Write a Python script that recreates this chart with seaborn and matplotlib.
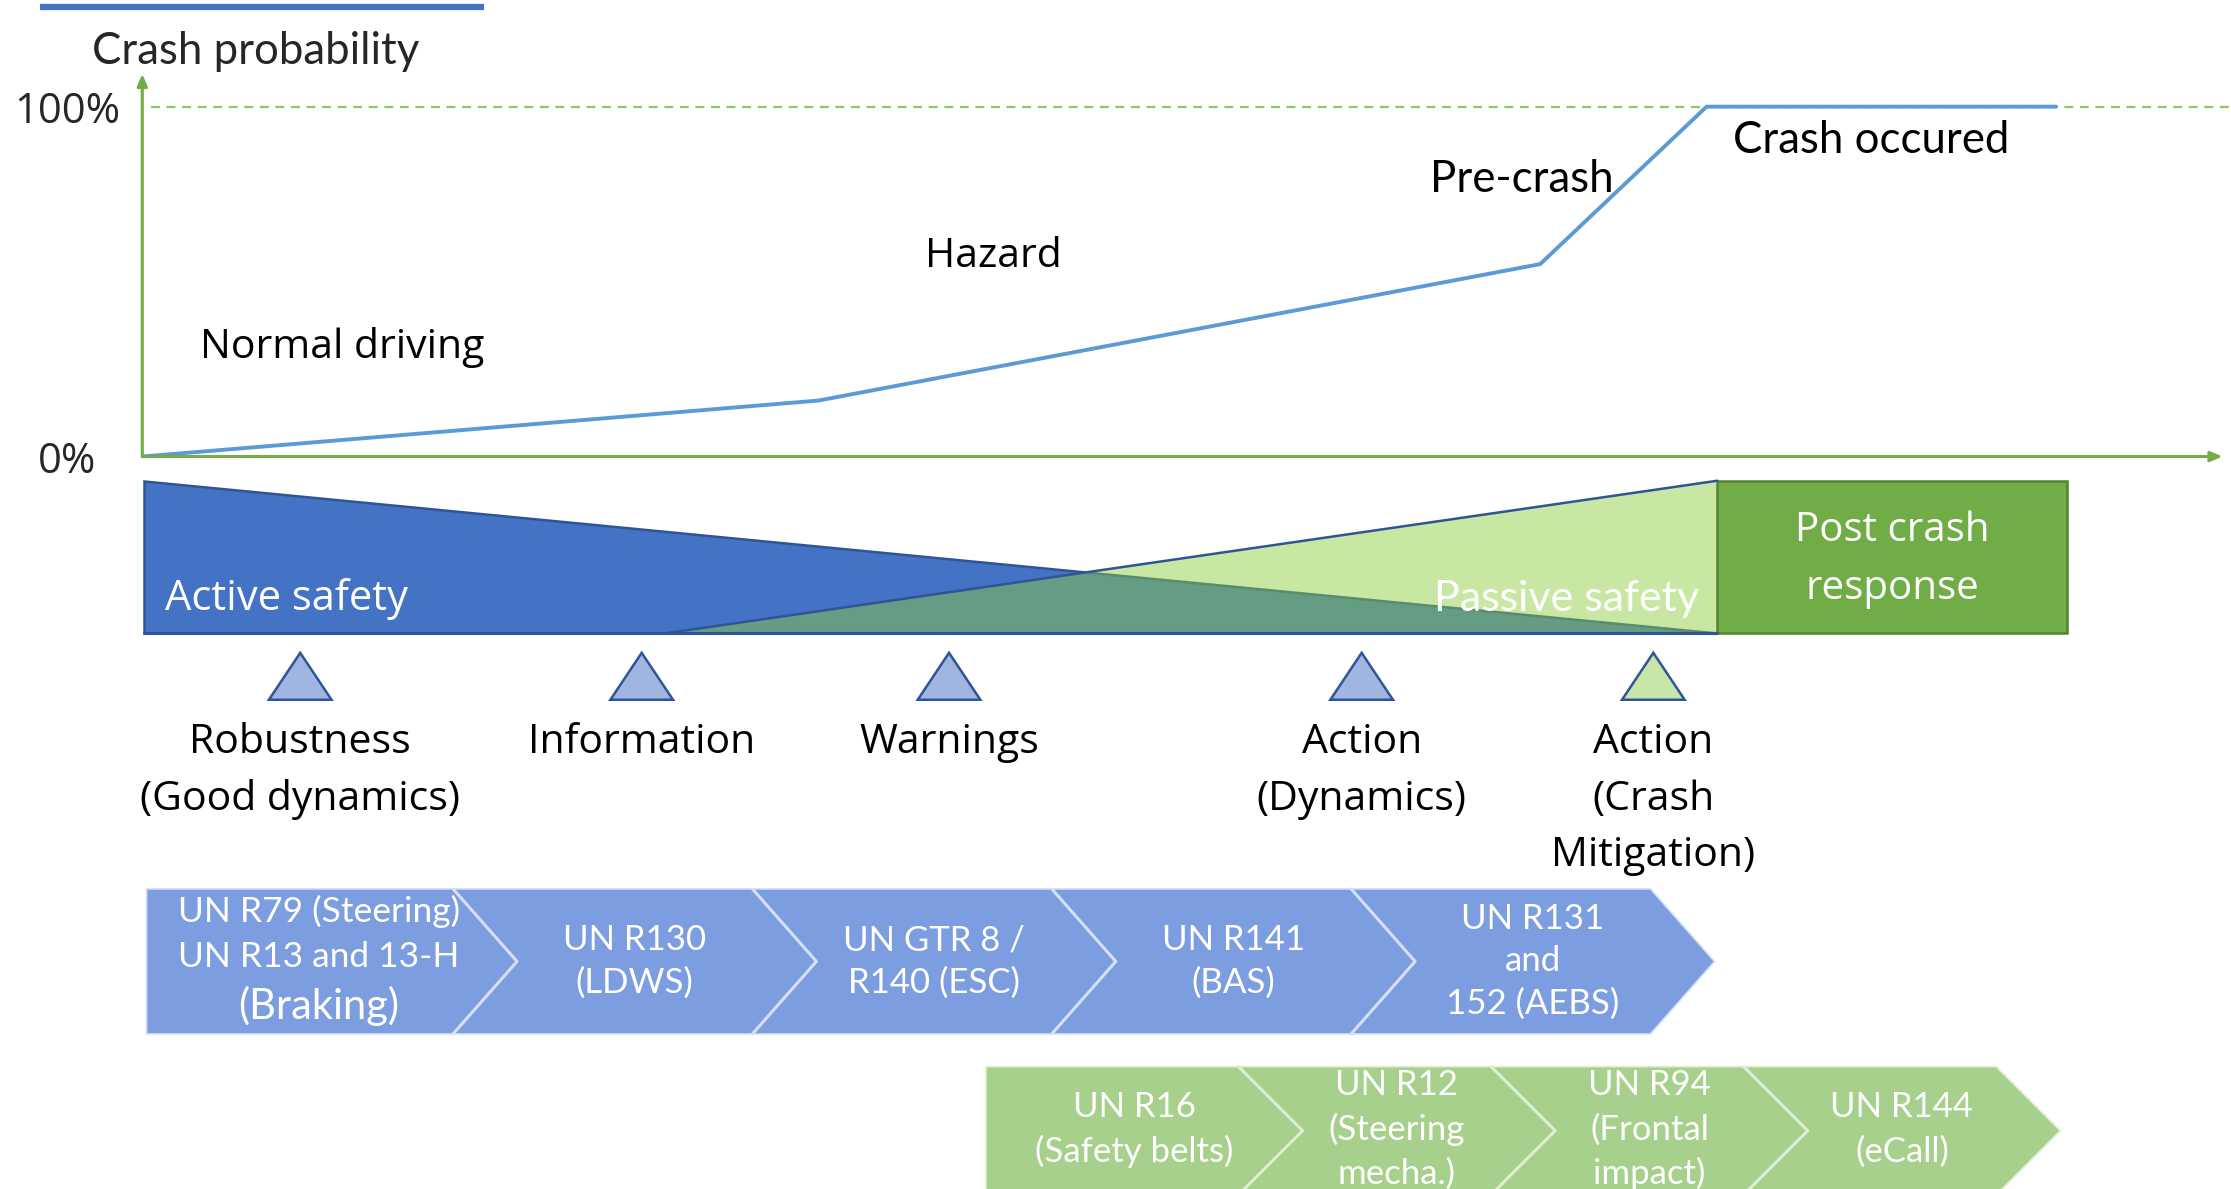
import matplotlib
matplotlib.use("Agg")
import matplotlib.pyplot as plt
import seaborn as sns
import pandas as pd
from matplotlib.patches import Polygon, Rectangle

# ---------------- data ----------------
time_pct = [0, 32.5, 67.2, 75.2, 92.0]
crash_prob = [0, 16, 55, 100, 100]

phase_labels = ["Normal driving", "Hazard", "Pre-crash", "Crash occured"]
phase_time = [9.6, 40.9, 66.3, 83.1]
phase_prob = [31.3, 57.0, 79.3, 90.3]
phase_font = ["seg", "seg", "cal", "cal"]

ytick_vals = [0, 100]
ytick_labels = ["0%", "100%"]

stage_labels = [["Robustness", "(Good dynamics)"], ["Information"], ["Warnings"],
                ["Action", "(Dynamics)"], ["Action", "(Crash", "Mitigation)"]]
stage_x = [211, 451, 667, 957, 1162]
stage_kind = ["active", "active", "active", "active", "passive"]

active_regs = [["UN R79 (Steering)", "UN R13 and 13-H", "(Braking)"],
               ["UN R130", "(LDWS)"], ["UN GTR 8 /", "R140 (ESC)"],
               ["UN R141", "(BAS)"], ["UN R131", "and", "152 (AEBS)"]]
passive_regs = [["UN R16", "(Safety belts)"], ["UN R12", "(Steering", "mecha.)"],
                ["UN R94", "(Frontal", "impact)"], ["UN R144", "(eCall)"]]

# ---------------- style ----------------
sns.set_style("white")
plt.rcParams["font.family"] = ["Open Sans", "DejaVu Sans"]
SEG = ["Open Sans", "DejaVu Sans"]
CAL = ["Lato", "DejaVu Sans"]

GREEN = "#70AD47"
BLUE = "#4472C4"
DBLUE = "#2F5597"
CURVE = "#5B9BD5"

W, H = 1568, 836
fig = plt.figure(figsize=(22.31, 11.89), dpi=100)

# background axes in layout units
bg = fig.add_axes([0, 0, 1, 1])
bg.set_xlim(0, W)
bg.set_ylim(H, 0)
bg.axis("off")

# ---------------- top chart ----------------
ax_l, ax_r, ax_b, ax_t = 100, 1562, 321, 52
ax = fig.add_axes([ax_l / W, 1 - ax_b / H, (ax_r - ax_l) / W, (ax_b - ax_t) / H])
ax.patch.set_alpha(0)
ax.set_xlim(0, 100)
ax.set_ylim(0, 100 * (ax_b - ax_t) / (ax_b - 75))
for s in ax.spines.values():
    s.set_visible(False)
ax.set_xticks([])
ax.set_yticks(ytick_vals)
ax.set_yticklabels(ytick_labels, fontsize=30, family=SEG)
ax.tick_params(axis="y", length=0, pad=54)
for lbl in ax.get_yticklabels():
    lbl.set_ha("center")

# axes arrows
ax.annotate("", xy=(1.0, 0), xytext=(0, 0), xycoords="axes fraction",
            arrowprops=dict(arrowstyle="-|>,head_length=0.7,head_width=0.3", color=GREEN, lw=2.2,
                            shrinkA=0, shrinkB=0))
ax.annotate("", xy=(0, 1.0), xytext=(0, 0), xycoords="axes fraction",
            arrowprops=dict(arrowstyle="-|>,head_length=0.7,head_width=0.3", color=GREEN, lw=2.2,
                            shrinkA=0, shrinkB=0))
ax.plot([0.4, 100.4], [100, 100], color="#8CC866", lw=1.6, ls=(0, (4, 3)), clip_on=False)

df = pd.DataFrame({"time": time_pct, "prob": crash_prob})
sns.lineplot(data=df, x="time", y="prob", ax=ax, color=CURVE, lw=2.8)
ax.set_xlabel("")
ax.set_ylabel("")

for lab, t, p, f in zip(phase_labels, phase_time, phase_prob, phase_font):
    ax.text(t, p, lab, ha="center", va="center", fontsize=29.5 if f == "seg" else 31.5,
            family=SEG if f == "seg" else CAL, color="black")

# title bar & label
bg.plot([28, 340], [5, 5], color=BLUE, lw=4.5, solid_capstyle="butt")
bg.text(180, 36, "Crash probability", ha="center", va="center", fontsize=31.5, family=CAL)

# ---------------- safety triangles ----------------
tri_top, tri_bot, tri_l, tri_r, pas_l = 338, 445, 101, 1207, 470
bg.add_patch(Polygon([(tri_l, tri_top), (tri_l, tri_bot), (tri_r, tri_bot)], closed=True,
                     fc=BLUE, ec=DBLUE, lw=1.8, zorder=2))
bg.add_patch(Polygon([(pas_l, tri_bot), (tri_r, tri_top), (tri_r, tri_bot)], closed=True,
                     fc=(0.55, 0.80, 0.24, 0.47), ec="none", lw=0, zorder=3))
bg.plot([pas_l, tri_r], [tri_bot, tri_top], color=DBLUE, lw=1.8, zorder=4)
bg.plot([tri_l, tri_r], [tri_bot, tri_bot], color=DBLUE, lw=2.2, zorder=4)
bg.text(116, 421, "Active safety", color="white", fontsize=30, family=SEG,
        ha="left", va="center", zorder=5)
bg.text(1194, 421, "Passive safety", color="white", fontsize=31, family=CAL,
        ha="right", va="center", zorder=5)

bg.add_patch(Rectangle((tri_r, tri_top), 1453 - tri_r, tri_bot - tri_top, fc=GREEN,
                       ec="#548235", lw=1.8, zorder=3))
bg.text(1330, 373, "Post crash", color="white", fontsize=29, family=SEG, ha="center", va="center", zorder=5)
bg.text(1330, 414, "response", color="white", fontsize=29, family=SEG, ha="center", va="center", zorder=5)

# ---------------- stage markers ----------------
m_top, m_bot, m_hw = 459, 492, 22
for x, lines, kind in zip(stage_x, stage_labels, stage_kind):
    fc = "#A0B6E0" if kind == "active" else "#C8E6A8"
    bg.add_patch(Polygon([(x - m_hw, m_bot), (x, m_top), (x + m_hw, m_bot)], closed=True,
                         fc=fc, ec=DBLUE, lw=1.8, zorder=3))
    for i, line in enumerate(lines):
        bg.text(x, 522 + 40 * i, line, ha="center", va="center", fontsize=29.5, family=SEG,
                color="black")


# ---------------- chevrons ----------------
def chevron(x0, w, d, top, bot, first, fc, hl):
    mid = (top + bot) / 2
    left_pt = (x0, mid) if first else (x0 + d, mid)
    verts = [(x0, top), (x0 + w, top), (x0 + w + d, mid), (x0 + w, bot), (x0, bot), left_pt]
    bg.add_patch(Polygon(verts, closed=True, fc=fc, ec=hl, lw=1.2, zorder=2))
    if not first:
        bg.plot([x0, x0 + d, x0], [top, mid, bot], color=hl, lw=2.2, zorder=3)


# blue row
b_top, b_bot, b_d = 625, 727, 45
b_first, b_start, b_w = 103, 318.4, 210.4
for k, lines in enumerate(active_regs):
    if k == 0:
        x0, w = b_first, b_start - b_first
        cx = (x0 + x0 + w + b_d / 2) / 2 + 2
    else:
        x0, w = b_start + (k - 1) * b_w, b_w
        cx = x0 + (w + b_d) / 2
    chevron(x0, w, b_d, b_top, b_bot, k == 0, "#7C9DDF", "#D6E0F5")
    n = len(lines)
    mid = (b_top + b_bot) / 2
    if k == 0:
        ys = [641, 673, 707]
        sizes = [25.5, 25.5, 30]
    else:
        ys = [mid + (i - (n - 1) / 2) * 30 for i in range(n)]
        sizes = [25] * n
    for line, yy, fs in zip(lines, ys, sizes):
        bg.text(cx, yy, line, ha="center", va="center", fontsize=fs, family=CAL,
                color="white", zorder=5)

# green row
g_top, g_bot, g_d = 750, 840, 45
g_first, g_start, g_w = 693, 870.5, 177.5
for k, lines in enumerate(passive_regs):
    if k == 0:
        x0, w = g_first, g_start - g_first
        cx = (x0 + x0 + w + g_d / 2) / 2 + 4
    else:
        x0, w = g_start + (k - 1) * g_w, g_w
        cx = x0 + (w + g_d) / 2
    chevron(x0, w, g_d, g_top, g_bot, k == 0, "#A6D08B", "#DDEED2")
    n = len(lines)
    mid = 794
    ys = [mid + (i - (n - 1) / 2) * 31 for i in range(n)]
    for line, yy in zip(lines, ys):
        bg.text(cx, yy, line, ha="center", va="center", fontsize=25, family=CAL,
                color="white", zorder=5)

fig.savefig("out.png", dpi=100)
